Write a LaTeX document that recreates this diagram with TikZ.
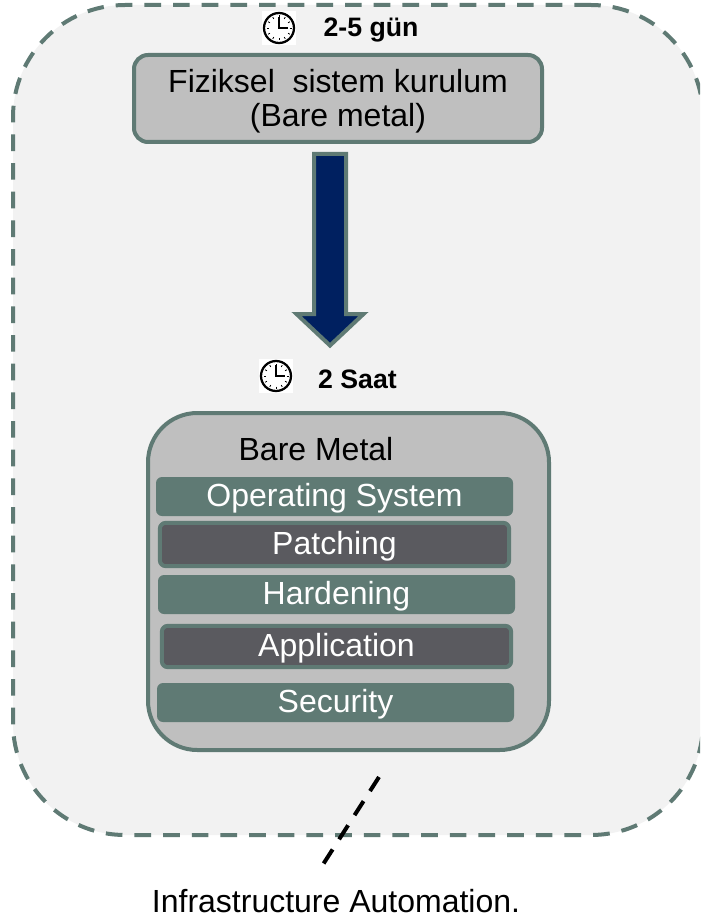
\documentclass[tikz,border=0pt]{standalone}
\usepackage{fontspec}
\setmainfont{Liberation Sans}
\definecolor{teal}{HTML}{5F7A74}
\definecolor{panel}{HTML}{F2F2F2}
\definecolor{boxgray}{HTML}{BFBFBF}
\definecolor{darkbar}{HTML}{5A5A5F}
\definecolor{navy}{HTML}{002060}
\tikzset{
  px/.style={x=0.75pt,y=-0.75pt},
  box/.style={draw=teal,line width=3pt,fill=boxgray,rounded corners=10.5pt,inner sep=0pt,align=center,font=\fontsize{24}{25.5}\selectfont},
  bar/.style={fill=teal,text=white,rounded corners=4.5pt,inner sep=0pt,minimum height=29.25pt,text height=19.4pt,text depth=5pt,font=\fontsize{24}{26}\selectfont},
  dbar/.style={draw=teal,line width=3pt,fill=darkbar,text=white,rounded corners=4.5pt,inner sep=0pt,text height=19.4pt,text depth=5pt,font=\fontsize{24}{26}\selectfont},
  time/.style={font=\fontsize{20}{22}\selectfont\bfseries,inner sep=0pt},
  plain/.style={font=\fontsize{24}{26}\selectfont,inner sep=0pt},
}
\newcommand{\clockat}[2]{%
  \begin{scope}[shift={(#1,#2)}]
    \fill[white] (-17,-17) rectangle (17,17);
    \draw[black,line width=1.7pt] (0,0) circle[radius=15];
    \foreach \a in {0,30,...,330}{\draw[black,line width=0.6pt] (\a:10.5) -- (\a:12.5);}
    \draw[black,line width=0.9pt] (0,-11) -- (0,0) -- (9,0);
  \end{scope}}
\begin{document}
\begin{tikzpicture}[px]
\useasboundingbox (0,0) rectangle (700,920);
\clip (0,0) rectangle (700,920);
\fill[white] (0,0) rectangle (700,920);
\node[draw=teal,line width=3pt,dash pattern=on 12.5pt off 9pt,fill=panel,rounded corners=84pt,minimum width=517.5pt,minimum height=622.5pt,inner sep=0pt] (panelbox) at (358,420) {};
\clockat{279}{28}
\node[time] (t1) at (371,30) {2-5 gün};
\node[box,minimum width=306pt,minimum height=65.25pt] (top) at (338,98.5) {\rule{0pt}{21.7pt}Fiziksel\ \ sistem kurulum\\(Bare metal)};
\draw[teal,line width=3pt,fill=navy,line join=miter] (314,154) -- (346,154) -- (346,314) -- (363.5,314) -- (330,345.5) -- (296.5,314) -- (314,314) -- cycle;
\clockat{276}{376}
\node[time] (t2) at (357.5,379) {2 Saat};
\node[box,minimum width=300.75pt,minimum height=252.75pt,rounded corners=37pt] (bm) at (348.5,581.5) {};
\node[plain] (bmt) at (316,449) {Bare Metal};
\node[bar,minimum width=267.75pt] (os) at (334.5,496.5) {Operating System};
\node[dbar,minimum width=262pt,minimum height=32.5pt] (pa) at (334.5,544.5) {Patching};
\node[bar,minimum width=267.75pt] (ha) at (336.5,594.5) {Hardening};
\node[dbar,minimum width=262pt,minimum height=31pt] (ap) at (336.5,646.5) {Application};
\node[bar,minimum width=267.75pt] (se) at (335.5,702.5) {Security};
\coordinate (c1) at (379,777);
\coordinate (c2) at (322,866);
\draw[black,line width=3pt,dash pattern=on 12.5pt off 9pt] (c1) -- (c2);
\node[plain] (it) at (336,901) {Infrastructure Automation.};
\end{tikzpicture}
\end{document}
